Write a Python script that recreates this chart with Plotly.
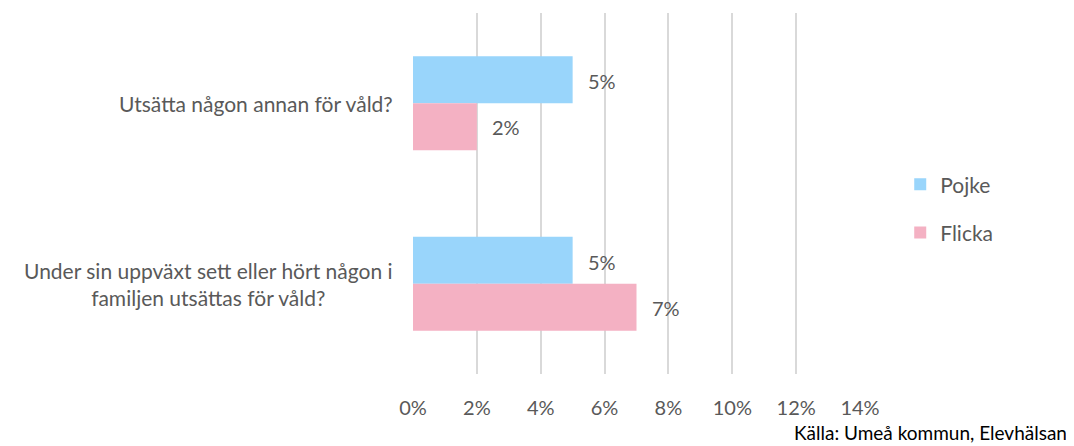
import plotly.graph_objects as go

categories = ["Utsätta någon annan för våld?",
              "Under sin uppväxt sett eller hört någon i<br>familjen utsättas för våld?"]
series_names = ["Pojke", "Flicka"]
pojke = [5, 5]
flicka = [2, 7]
values = [pojke, flicka]
colors = ["#99D5FB", "#F4B1C3"]
tick_vals = [0, 2, 4, 6, 8, 10, 12, 14]
tick_text = [f"{v}%" for v in tick_vals]
source = "Källa: Umeå kommun, Elevhälsan"

FONT = "Lato"
GREY = "#595959"

fig = go.Figure()
for i, (name, vals, col) in enumerate(zip(series_names, values, colors)):
    fig.add_trace(go.Bar(
        y=categories, x=vals, name=name, orientation="h",
        marker=dict(color=col, line=dict(width=0)),
        legendgroup=name, hoverinfo="skip",
    ))
    for cat, v in zip(categories, vals):
        fig.add_annotation(
            x=v, y=cat, text=f"{v}%", showarrow=False,
            xanchor="left", xshift=13, yshift=(22 if i == 0 else -24),
            font=dict(family=FONT, size=20, color=GREY),
        )

# category labels (centered multi-line, like the reference)
for cat in categories:
    fig.add_annotation(
        x=0, xref="paper", y=cat, yref="y", text=cat, showarrow=False,
        xanchor="right", yanchor="middle", align="center", xshift=-18,
        font=dict(family=FONT, size=21, color=GREY),
    )

fig.add_annotation(
    x=1.0, y=0, xref="paper", yref="paper", xanchor="right", yanchor="middle",
    xshift=209, yshift=-58, text=source, showarrow=False,
    font=dict(family=FONT, size=19, color="#000000"),
)

fig.update_layout(
    width=1066, height=438,
    margin=dict(l=405, r=214, t=5, b=72, autoexpand=False),
    paper_bgcolor="white", plot_bgcolor="white",
    barmode="group", bargap=0.48, bargroupgap=0,
    font=dict(family=FONT, size=20, color=GREY),
    showlegend=True,
    legend=dict(x=1.09, y=0.458, xanchor="left", yanchor="middle",
                traceorder="grouped", tracegroupgap=18,
                font=dict(family=FONT, size=21, color=GREY),
                itemwidth=30, bgcolor="rgba(0,0,0,0)"),
    xaxis=dict(range=[0, 14], tickvals=tick_vals, ticktext=tick_text,
               showgrid=True, gridcolor="#D9D9D9", gridwidth=1.5,
               zeroline=False, showline=False, ticks="",
               ticklabelstandoff=20, automargin=False,
               tickfont=dict(family=FONT, size=20, color=GREY)),
    yaxis=dict(autorange="reversed", showgrid=False, zeroline=False,
               showline=False, ticks="", showticklabels=False,
               automargin=False),
)

fig.write_html("out.html")
